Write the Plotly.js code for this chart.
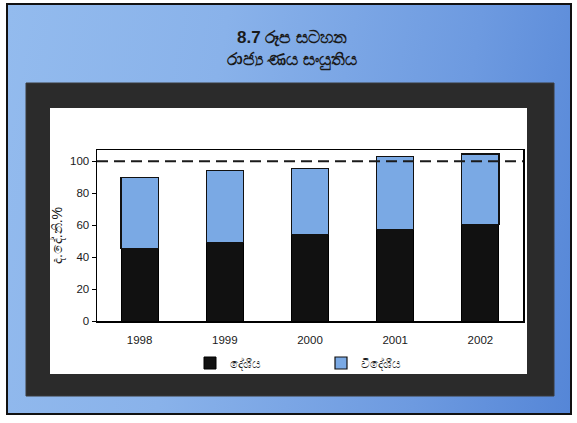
<!DOCTYPE html>
<html>
<head>
<meta charset="utf-8">
<script src="https://cdn.plot.ly/plotly-3.0.1.min.js"></script>
<style>
  html, body { margin: 0; padding: 0; background: #ffffff; }
  #wrap { position: relative; width: 577px; height: 423px; overflow: hidden; background: #ffffff; }
  #bg { position: absolute; left: 6px; top: 3px; width: 562px; height: 408px;
        border: 2px solid #111;
        background: linear-gradient(100deg, #93bbee 0%, #89b2ea 35%, #6d9ae0 75%, #5586d7 100%); }
  #chart { position: absolute; left: 0; top: 0; width: 577px; height: 423px; }
</style>
</head>
<body>
<div id="wrap">
  <div id="bg"></div>
  <div id="chart"></div>
</div>
<script>
// ---- data ----
var years = ['1998', '1999', '2000', '2001', '2002'];
var domestic = [45.4, 49.0, 54.0, 57.4, 60.3];   // දේශීය
var foreign  = [44.2, 45.4, 41.6, 45.6, 44.2];   // විදේශීය
var seriesNames = ['දේශීය', 'විදේශීය'];
var referenceLevel = 100;
var yTicks = [0, 20, 40, 60, 80, 100];
var titleLines = ['8.7 රූප සටහන', 'රාජ්‍ය ණය සංයුතිය'];
var yTitle = 'ද.දේ.නි.%';

// ---- geometry helpers (pixel -> paper) ----
var W = 577, H = 423;
var mL = 97, mR = 54, mT = 150, mB = 102;
var pw = W - mL - mR, ph = H - mT - mB;
function px(x) { return (x - mL) / pw; }
function py(y) { return (H - mB - y) / ph; }

var font = 'Arial, "Liberation Sans", "Noto Sans", sans-serif';

var traces = [
  { type: 'bar', x: years, y: domestic, name: seriesNames[0],
    marker: { color: '#111111', line: { color: '#000000', width: 1 } }, hoverinfo: 'skip' },
  { type: 'bar', x: years, y: foreign, name: seriesNames[1],
    marker: { color: '#7aa9e4', line: { color: '#111111', width: 1.2 } }, hoverinfo: 'skip' }
];

var layout = {
  width: W, height: H,
  margin: { l: mL, r: mR, t: mT, b: mB, pad: 0 },
  paper_bgcolor: 'rgba(0,0,0,0)',
  plot_bgcolor: '#ffffff',
  barmode: 'stack',
  bargap: 0.565,
  showlegend: true,
  font: { family: font, color: '#1a1a1a', size: 11 },
  title: {
    text: '<b>' + titleLines.join('<br>') + '</b>',
    x: 292 / W, xanchor: 'center', xref: 'container',
    y: 1 - 43 / H, yanchor: 'middle', yref: 'container',
    font: { family: font, size: 17, color: '#1a1a1a' }
  },
  xaxis: {
    type: 'category',
    showline: true, mirror: true, linecolor: '#000', linewidth: 1.5,
    ticks: '', ticklabelstandoff: 8,
    tickfont: { size: 11.5, color: '#1a1a1a' },
    showgrid: false, zeroline: false, fixedrange: true
  },
  yaxis: {
    range: [0, 107],
    tickvals: yTicks,
    showline: true, mirror: true, linecolor: '#000', linewidth: 1.5,
    ticks: 'outside', ticklen: 4, tickcolor: '#000',
    tickfont: { size: 11.5, color: '#1a1a1a' },
    showgrid: false, zeroline: false, fixedrange: true,
    title: { text: yTitle, standoff: 4, font: { size: 14, color: '#1a1a1a' } }
  },
  legend: {
    orientation: 'h',
    x: px(190), xanchor: 'left',
    y: py(363), yanchor: 'middle',
    entrywidth: 86, entrywidthmode: 'pixels',
    font: { size: 12, color: '#1a1a1a' },
    bgcolor: 'rgba(0,0,0,0)',
    traceorder: 'normal'
  },
  shapes: [
    // dark frame
    { type: 'rect', xref: 'paper', yref: 'paper', layer: 'below',
      x0: px(26), x1: px(554), y0: py(396), y1: py(83),
      fillcolor: '#2b2b2b', line: { color: '#3a3a3a', width: 1 } },
    // white panel
    { type: 'rect', xref: 'paper', yref: 'paper', layer: 'below',
      x0: px(50), x1: px(527), y0: py(374), y1: py(108),
      fillcolor: '#ffffff', line: { width: 0 } },
    // dashed reference line at 100
    { type: 'line', xref: 'paper', yref: 'y', layer: 'above',
      x0: 0, x1: 1, y0: referenceLevel, y1: referenceLevel,
      line: { color: '#1a1a1a', width: 2, dash: '11px,6px' } }
  ]
};

Plotly.newPlot('chart', traces, layout, { displayModeBar: false, staticPlot: true });
</script>
</body>
</html>
